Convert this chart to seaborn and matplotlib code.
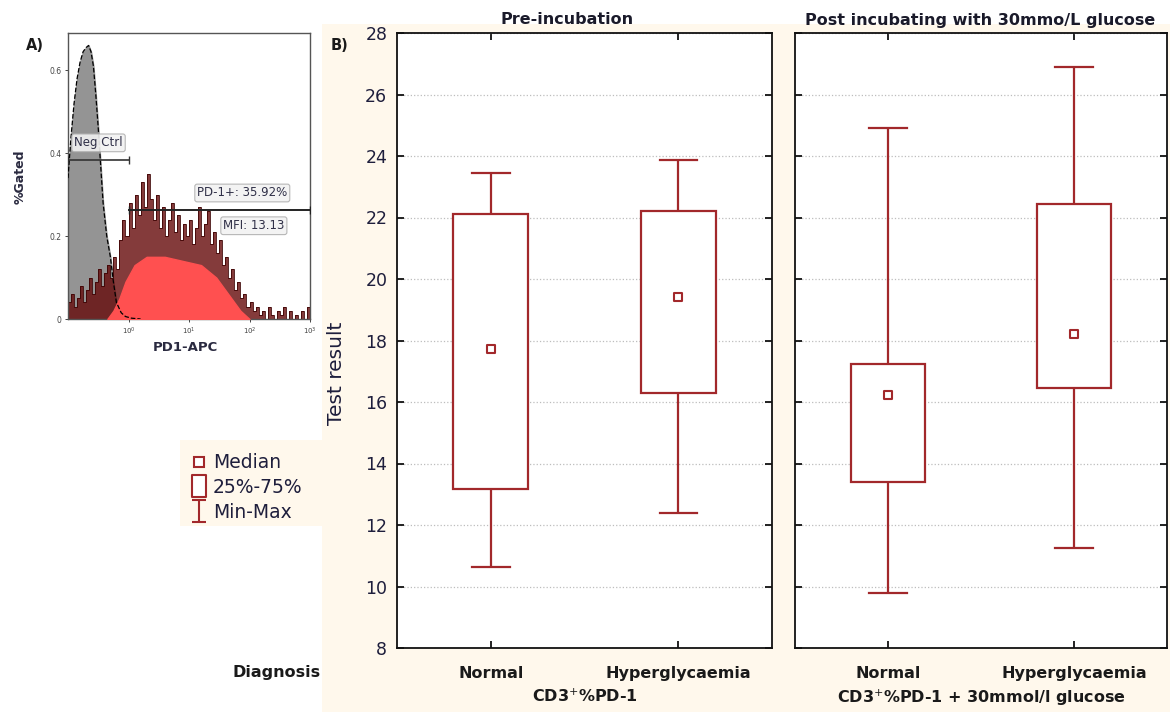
import numpy as np
import pandas as pd
import seaborn as sns
import matplotlib.pyplot as plt
from matplotlib.lines import Line2D
from matplotlib.patches import Rectangle
from matplotlib.path import Path

# ---- Panel B data ----
groups = ['Normal', 'Hyperglycaemia']
pre_min = [10.62, 12.38]
pre_q1 = [13.18, 16.30]
pre_med = [17.72, 19.42]
pre_q3 = [22.12, 22.22]
pre_max = [23.44, 23.86]

post_min = [9.78, 11.26]
post_q1 = [13.39, 16.45]
post_med = [16.23, 18.21]
post_q3 = [17.24, 22.43]
post_max = [24.92, 26.89]

# ---- Panel A data (flow histogram, log10 of PD1-APC) ----
neg_log = [-1.0, -0.95, -0.9, -0.85, -0.8, -0.75, -0.7, -0.66, -0.62, -0.58,
           -0.54, -0.5, -0.46, -0.42, -0.36, -0.3, -0.25, -0.2, -0.12, -0.05, 0.05, 0.2]
neg_val = [0.34, 0.44, 0.52, 0.58, 0.62, 0.645, 0.655, 0.66, 0.645, 0.61,
           0.54, 0.46, 0.37, 0.28, 0.20, 0.15, 0.09, 0.04, 0.015, 0.006, 0.002, 0.0]

pd1_edges_log = np.arange(-1.0, 3.001, 0.05)
pd1_counts = [0.04, 0.06, 0.03, 0.05, 0.08, 0.04, 0.07, 0.10, 0.06, 0.09, 0.12, 0.08, 0.11, 0.13,
              0.10, 0.15, 0.12, 0.19, 0.24, 0.20,
              0.28, 0.22, 0.30, 0.25, 0.33, 0.27, 0.35, 0.29, 0.24, 0.30,
              0.22, 0.27, 0.20, 0.24, 0.28, 0.21, 0.25, 0.19, 0.23, 0.20,
              0.24, 0.18, 0.22, 0.27, 0.20, 0.23, 0.26, 0.18, 0.21, 0.16,
              0.19, 0.13, 0.15, 0.10, 0.12, 0.07, 0.09, 0.05, 0.06, 0.03,
              0.04, 0.02, 0.03, 0.01, 0.02, 0.00, 0.03, 0.01, 0.00, 0.02,
              0.01, 0.03, 0.00, 0.02, 0.00, 0.01, 0.00, 0.02, 0.00, 0.03]

pd1_fill_log = [-0.35, -0.25, -0.15, -0.05, 0.1, 0.3, 0.6, 0.9, 1.2, 1.45, 1.65, 1.85, 2.0]
pd1_fill_val = [0.0, 0.02, 0.05, 0.09, 0.13, 0.15, 0.15, 0.14, 0.13, 0.10, 0.06, 0.02, 0.0]

RED = '#A2282B'
NAVY = '#1E1E3C'
CREAM = '#FFF8EC'

W, H = 1170, 712
fig = plt.figure(figsize=(11.7, 7.12), dpi=100)
fig.patch.set_facecolor('white')

def fx(px):
    return px / W

def fy(py):
    return 1 - py / H

# cream background behind panel B and legend
fig.patches.append(Rectangle((fx(322), 0), fx(W) - fx(322), fy(24), transform=fig.transFigure,
                             facecolor=CREAM, edgecolor='none', zorder=-10))
fig.patches.append(Rectangle((fx(180), fy(526)), fx(142), fy(440) - fy(526), transform=fig.transFigure,
                             facecolor=CREAM, edgecolor='none', zorder=-10))

# ================= Panel A =================
axA = fig.add_axes([fx(68), fy(319), fx(242), fy(33) - fy(319)])
axA.set_xscale('log')
axA.set_xlim(0.1, 1000)
axA.set_ylim(0, 0.69)

neg_x = 10 ** np.array(neg_log)
axA.fill_between(neg_x, neg_val, color='#949494', zorder=1)
axA.stairs(pd1_counts, 10 ** pd1_edges_log, fill=True, color='#650A0A', alpha=0.8, zorder=2)
axA.stairs(pd1_counts, 10 ** pd1_edges_log, color='#3E0404', linewidth=0.6, zorder=2)
axA.fill_between(10 ** np.array(pd1_fill_log), pd1_fill_val, color='#FF5050', zorder=3)
axA.plot(neg_x, neg_val, color='black', linestyle='--', linewidth=0.9, zorder=4)

# gates
axA.plot([0.1, 1], [0.383, 0.383], color='#333333', lw=1.2, marker='|', ms=6, zorder=5)
axA.plot([1, 1000], [0.263, 0.263], color='#222222', lw=1.4, marker='|', ms=6, zorder=5)
box = dict(boxstyle='round,pad=0.2', facecolor='#F2F2F2', edgecolor='#B0B0B0', alpha=0.9, lw=0.8)
axA.text(0.32, 0.425, 'Neg Ctrl', ha='center', va='center', fontsize=8.5, color='#303048',
         bbox=box, zorder=6)
axA.text(76, 0.304, 'PD-1+: 35.92%', ha='center', va='center', fontsize=8.5, color='#303048',
         bbox=box, zorder=6)
axA.text(118, 0.225, 'MFI: 13.13', ha='center', va='center', fontsize=8.5, color='#303048',
         bbox=box, zorder=6)

axA.set_yticks([0, 0.2, 0.4, 0.6])
axA.set_yticklabels(['0', '0.2', '0.4', '0.6'], fontsize=5.5, color='#444444')
axA.set_xticks([1, 10, 100, 1000])
axA.set_xticklabels(['$10^0$', '$10^1$', '$10^2$', '$10^3$'], fontsize=5, color='#444444')
axA.minorticks_off()
axA.tick_params(length=2.5, width=0.7, pad=2, colors='#444444')
for s in axA.spines.values():
    s.set_color('#555555')
    s.set_linewidth(1.0)
fig.text(fx(20), fy(177), '%Gated', rotation=90, ha='center', va='center',
         fontsize=9, fontweight='bold', color='#2A2A40')
fig.text(fx(185), fy(347), 'PD1-APC', ha='center', va='center',
         fontsize=9.5, fontweight='bold', color='#2A2A40')
fig.text(fx(35), fy(45), 'A)', ha='center', va='center', fontsize=10.5, fontweight='bold', color='#1A1A1A')

# ================= Panel B =================
def panel(ax, mins, q1, med, q3, maxs):
    rows = []
    for g, a, b, c, d, e in zip(groups, mins, q1, med, q3, maxs):
        for v in (a, b, c, d, e):
            rows.append({'group': g, 'value': v})
    df = pd.DataFrame(rows)
    sns.boxplot(data=df, x='group', y='value', order=groups, whis=(0, 100), width=0.4,
                color='white', saturation=1, linecolor=RED, linewidth=1.6,
                medianprops={'visible': False}, showfliers=False, ax=ax)
    ax.scatter(range(len(groups)), med, marker='s', s=38, facecolor='white',
               edgecolor=RED, linewidth=1.5, zorder=6)
    ax.set_xlim(-0.5, 1.5)
    ax.set_ylim(8, 28)
    ax.set_yticks(range(8, 29, 2))
    ax.yaxis.grid(True, linestyle=':', color='#BDBDBD', linewidth=0.9)
    ax.set_axisbelow(True)
    ax.tick_params(axis='both', direction='in', length=5, width=1.3, color='#111111')
    ax.tick_params(axis='y', left=True, right=True)
    ax.tick_params(axis='x', top=True, bottom=True, pad=13)
    ax.set_xticks(range(len(groups)))
    ax.set_xticklabels(groups, fontsize=11.5, fontweight='bold', color='#1A1A1A')
    for s in ax.spines.values():
        s.set_color('#111111')
        s.set_linewidth(1.3)
    ax.set_ylabel('')
    ax.set_facecolor('white')

axL = fig.add_axes([fx(397), fy(648), fx(375), fy(33) - fy(648)])
axR = fig.add_axes([fx(795), fy(648), fx(372), fy(33) - fy(648)])
panel(axL, pre_min, pre_q1, pre_med, pre_q3, pre_max)
panel(axR, post_min, post_q1, post_med, post_q3, post_max)

axL.set_yticklabels([str(v) for v in range(8, 29, 2)], fontsize=12.5, color=NAVY)
axL.tick_params(axis='y', pad=7)
axR.tick_params(axis='y', labelleft=False)

axL.set_xlabel('CD3$^{+}$%PD-1', fontsize=11.5, fontweight='bold',
               color='#1A1A1A', labelpad=5)
axR.set_xlabel('CD3$^{+}$%PD-1 + 30mmol/l glucose', fontsize=11.5, fontweight='bold',
               color='#1A1A1A', labelpad=5)

fig.text(fx(567), fy(20), 'Pre-incubation', ha='center', va='center',
         fontsize=11.5, fontweight='bold', color='#1A1A2A')
fig.text(fx(980), fy(20), 'Post incubating with 30mmo/L glucose', ha='center', va='center',
         fontsize=11.5, fontweight='bold', color='#1A1A2A')
fig.text(fx(340), fy(45), 'B)', ha='center', va='center', fontsize=10.5, fontweight='bold', color='#1A1A1A')
fig.text(fx(336), fy(373), 'Test result', rotation=90, ha='center', va='center',
         fontsize=14.5, color=NAVY)
fig.text(fx(277), fy(672), 'Diagnosis', ha='center', va='center', fontsize=11.5,
         fontweight='bold', color='#1A1A1A')

# ---- legend ----
minmax = Path([(-0.6, 1), (0.6, 1), (0, 1), (0, -1), (-0.6, -1), (0.6, -1)],
              [Path.MOVETO, Path.LINETO, Path.MOVETO, Path.LINETO, Path.MOVETO, Path.LINETO])
iqr_box = Path([(-0.6, -1), (0.6, -1), (0.6, 1), (-0.6, 1), (-0.6, -1)],
               [Path.MOVETO, Path.LINETO, Path.LINETO, Path.LINETO, Path.CLOSEPOLY])
handles = [
    Line2D([], [], marker='s', ls='none', ms=6.5, mfc='white', mec=RED, mew=1.5),
    Line2D([], [], marker=iqr_box, ls='none', ms=16, mfc='white', mec=RED, mew=1.5),
    Line2D([], [], marker=minmax, ls='none', ms=16, mfc='none', mec=RED, mew=1.5),
]
leg = fig.legend(handles, ['Median', '25%-75%', 'Min-Max'], loc='upper left',
                 bbox_to_anchor=(fx(178), fy(442)), frameon=False, fontsize=13.5,
                 handlelength=1.0, handletextpad=0.25, labelspacing=0.3, borderpad=0.1)
for t in leg.get_texts():
    t.set_color(NAVY)

fig.savefig('out.png', dpi=100, facecolor=fig.get_facecolor())
